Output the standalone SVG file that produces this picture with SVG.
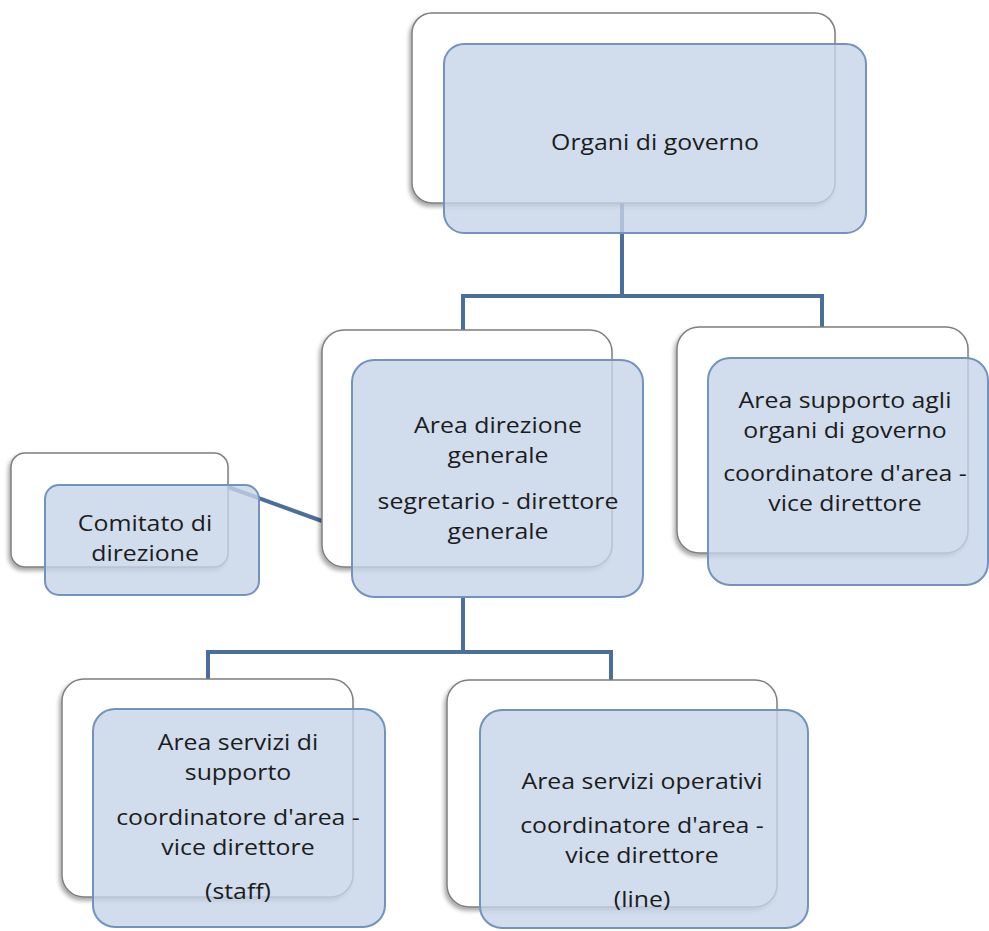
<svg xmlns="http://www.w3.org/2000/svg" width="989" height="931" viewBox="0 0 989 931">
<defs>
<filter id="sh" x="-10%" y="-10%" width="120%" height="125%">
<feDropShadow dx="-2" dy="3" stdDeviation="2" flood-color="#000" flood-opacity="0.35"/>
</filter>
</defs>
<style>
.back{fill:#ffffff;stroke:#7f7f7f;stroke-width:1.5;filter:url(#sh)}
.front{fill:#c5d3e8;fill-opacity:0.8;stroke:#7393bf;stroke-width:2}
.conn{fill:none;stroke:#4b6f9b;stroke-width:4}
text{font-family:"Open Sans","Liberation Sans",sans-serif;font-size:22px;fill:#1c1c1c;text-anchor:middle}
</style>
<rect width="989" height="931" fill="#ffffff"/>
<g id="connectors">
<path class="conn" d="M622 203 V296 M463 330 V296 H822 V327"/>
<path class="conn" d="M228 487 L322 521"/>
<path class="conn" d="M463 597 V652 M208 680 V652 H611 V680"/>
</g>
<g id="organi">
<rect class="back" x="412" y="13" width="423" height="190" rx="20"/>
<rect class="front" x="444" y="44" width="422" height="189" rx="20"/>
<g transform="translate(655 0) scale(1.13 1)"><text x="0" y="150">Organi di governo</text></g>
</g>
<g id="direzione">
<rect class="back" x="322" y="330" width="290" height="237" rx="22"/>
<rect class="front" x="352" y="360" width="291" height="237" rx="22"/>
<g transform="translate(498 0) scale(1.13 1)">
<text x="0" y="433">Area direzione</text>
<text x="0" y="463">generale</text>
<text x="0" y="509">segretario - direttore</text>
<text x="0" y="539">generale</text>
</g>
</g>
<g id="supporto-organi">
<rect class="back" x="677" y="327" width="291" height="226" rx="22"/>
<rect class="front" x="708" y="358" width="280" height="227" rx="22"/>
<g transform="translate(845 0) scale(1.13 1)">
<text x="0" y="408">Area supporto agli</text>
<text x="0" y="438">organi di governo</text>
<text x="0" y="481">coordinatore d'area -</text>
<text x="0" y="511">vice direttore</text>
</g>
</g>
<g id="comitato">
<rect class="back" x="11" y="453" width="217" height="114" rx="14"/>
<rect class="front" x="45" y="485" width="214" height="110" rx="14"/>
<g transform="translate(145 0) scale(1.13 1)">
<text x="0" y="531">Comitato di</text>
<text x="0" y="561">direzione</text>
</g>
</g>
<g id="servizi-supporto">
<rect class="back" x="62" y="679" width="291" height="218" rx="22"/>
<rect class="front" x="93" y="709" width="292" height="218" rx="22"/>
<g transform="translate(238 0) scale(1.13 1)">
<text x="0" y="750">Area servizi di</text>
<text x="0" y="780">supporto</text>
<text x="0" y="825">coordinatore d'area -</text>
<text x="0" y="855">vice direttore</text>
<text x="0" y="899">(staff)</text>
</g>
</g>
<g id="servizi-operativi">
<rect class="back" x="447" y="680" width="330" height="227" rx="22"/>
<rect class="front" x="480" y="710" width="328" height="218" rx="22"/>
<g transform="translate(642 0) scale(1.13 1)">
<text x="0" y="789">Area servizi operativi</text>
<text x="0" y="833">coordinatore d'area -</text>
<text x="0" y="863">vice direttore</text>
<text x="0" y="907">(line)</text>
</g>
</g>
</svg>
